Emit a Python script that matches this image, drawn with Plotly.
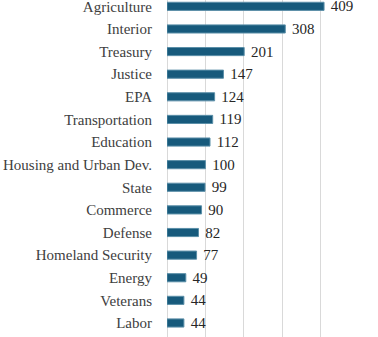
import plotly.graph_objects as go

categories = ["Agriculture", "Interior", "Treasury", "Justice", "EPA", "Transportation",
              "Education", "Housing and Urban Dev.", "State", "Commerce", "Defense",
              "Homeland Security", "Energy", "Veterans", "Labor"]
values = [409, 308, 201, 147, 124, 119, 112, 100, 99, 90, 82, 77, 49, 44, 44]

SERIF = "Liberation Serif, Times New Roman, serif"

fig = go.Figure(go.Bar(
    x=values, y=categories, orientation="h",
    marker=dict(color="#175a7c", line=dict(color="#5b8fa8", width=1)),
    width=0.36,
    text=[f" {v}" for v in values], textposition="outside",
    constraintext="none",
    textfont=dict(family=SERIF, size=15, color="#262626"),
    cliponaxis=False,
))

fig.update_layout(
    width=378, height=337,
    margin=dict(l=167, r=19, t=0, b=0),
    paper_bgcolor="white", plot_bgcolor="white",
    font=dict(family=SERIF, size=15, color="#404040"),
    showlegend=False,
    xaxis=dict(range=[0, 500], dtick=100, showgrid=True, gridcolor="#d9d9d9", gridwidth=1,
               showticklabels=False, zeroline=True, zerolinecolor="#d9d9d9", zerolinewidth=1,
               showline=False, fixedrange=True, automargin=False),
    yaxis=dict(range=[14.62, -0.28], categoryorder="array", categoryarray=categories,
               showgrid=False, ticks="", ticklabelstandoff=14, showline=False, automargin=False,
               tickfont=dict(family=SERIF, size=15, color="#404040")),
)

fig.write_html("out.html")
